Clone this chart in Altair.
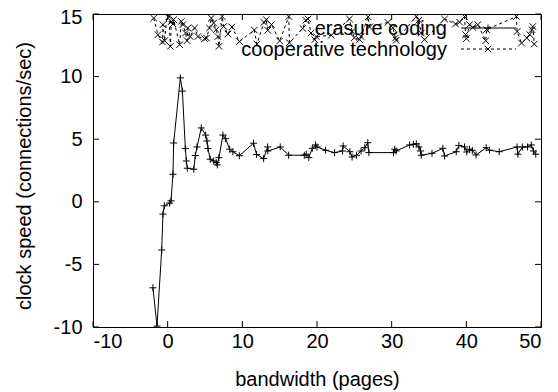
import altair as alt
import pandas as pd

# ---- data ----
erasure_x = [-1.97, -1.43, -0.8, -0.63, -0.45, 0.27, 0.45, 0.71, 0.8, 1.7, 1.97, 2.37, 2.5, 2.63,
             3.5, 3.7, 3.93, 4.5, 5.09, 5.26, 5.4, 5.7, 6.16, 6.5, 6.65, 6.87, 7.4, 7.76, 8.3, 8.74,
             9.6, 11.5, 11.9, 12.85, 13.39, 13.42, 15.08, 16.2, 18.3, 18.55, 18.9, 19.37, 19.8, 20.0,
             21.15, 22.36, 23.4, 23.5, 24.4, 24.7, 25.3, 25.9, 26.4, 26.8, 26.95, 30.25, 30.4, 30.6,
             32.4, 32.9, 33.3, 33.65, 33.87, 33.96, 35.4, 36.85, 37.08, 38.65, 39.0, 39.76, 40.06,
             40.43, 40.8, 41.3, 42.66, 43.1, 44.4, 46.8, 46.9, 47.5, 48.2, 48.7, 49.0, 49.3]
erasure_y = [-6.87, -9.93, -3.85, -0.98, -0.32, -0.1, 0.08, 2.2, 4.7, 9.9, 8.84, 4.25, 3.26, 2.68,
             2.6, 3.7, 4.38, 5.9, 5.33, 4.86, 4.25, 3.4, 3.26, 3.13, 2.95, 3.53, 5.33, 5.04, 4.2, 4.0,
             3.68, 4.68, 3.78, 3.45, 4.38, 4.06, 4.38, 3.72, 3.72, 3.8, 3.53, 4.27, 4.54, 4.38,
             4.12, 3.93, 4.06, 4.46, 4.0, 3.58, 3.72, 4.06, 4.32, 4.72, 3.93, 3.93, 4.2, 4.06,
             4.54, 4.59, 4.64, 4.38, 4.06, 3.72, 3.87, 4.27, 3.66, 4.0, 4.5, 4.38, 3.98,
             4.2, 4.11, 3.74, 4.32, 4.12, 4.0, 4.38, 3.8, 4.38, 4.38, 4.54, 4.06, 3.8]

coop_x = [-1.87, -1.3, -0.7, -0.63, -0.4, 0.0, 0.18, 0.36, 0.5, 0.72, 0.8, 1.6, 1.83, 2.05, 2.4,
          2.6, 2.7, 3.0, 3.6, 4.05, 4.95, 5.2, 5.6, 5.85, 6.16, 6.5, 6.73, 6.87, 7.3, 7.5, 8.07,
          8.6, 9.6, 11.6, 11.95, 12.9, 13.2, 13.4, 13.9, 15.0, 16.22, 16.3, 18.1, 18.5, 18.8,
          19.2, 19.7, 19.9, 21.9, 24.35, 24.7, 25.0, 25.7, 25.9, 26.85, 27.04, 29.5, 30.16, 30.5,
          30.6, 33.3, 33.65, 33.96, 34.4, 37.08, 38.55, 39.1, 39.76, 39.9, 40.0, 40.43, 40.87,
          41.54, 42.6, 42.7, 46.7, 46.8, 47.4, 48.1, 48.5, 48.8, 48.9, 49.1]
coop_y = [14.67, 13.35, 12.76, 14.15, 12.87, 15.6, 14.8, 12.42, 14.4, 14.2, 14.55, 12.55, 14.41,
          14.15, 13.48, 12.87, 13.88, 13.2, 13.88, 13.2, 13.03, 13.08, 13.88, 14.67, 14.28, 13.75,
          13.2, 12.42, 14.8, 14.0, 13.4, 13.96, 12.8, 13.72, 12.6, 14.33, 14.55, 13.7, 14.15,
          12.85, 14.8, 12.7, 13.85, 14.5, 14.6, 13.48, 12.95, 13.2, 13.3, 14.6, 13.6, 13.1, 12.95,
          13.2, 14.77, 13.96, 14.33, 13.9, 13.08, 12.9, 14.8, 14.5, 13.48, 12.95, 14.6, 14.2,
          14.35, 14.8, 13.35, 13.03, 14.15, 13.93, 14.15, 12.87, 13.75, 14.8, 13.6, 12.68, 13.08,
          13.35, 13.75, 14.0, 12.6]

x_ticks = [-10, 0, 10, 20, 30, 40, 50]
y_ticks = [-10, -5, 0, 5, 10, 15]
series_names = ["erasure coding", "cooperative technology"]

# ---- layout ----
W, H = 448, 313
FONT = "Liberation Sans"
FS = 20
PLUS = "M-1,0L1,0M0,-1L0,1"
CROSS = "M-1,-1L1,1M-1,1L1,-1"

xs = alt.Scale(domain=[-10, 50], nice=False, zero=False)
ys = alt.Scale(domain=[-10, 15], nice=False, zero=False)
xaxis = alt.Axis(values=x_ticks, title="bandwidth (pages)", grid=False, domain=False, ticks=False,
                 tickSize=0, labelPadding=4, labelExpr="'' + datum.value",
                 titleY=58, titleBaseline="alphabetic")
yaxis = alt.Axis(values=y_ticks, title="clock speed (connections/sec)", grid=False, domain=False,
                 ticks=False, tickSize=0, labelPadding=11, labelExpr="'' + datum.value",
                 labelOffset={"condition": {"test": "datum.value == 15", "value": 3}, "value": 0},
                 titleX=-63, titleY=H / 2 + 5, titleBaseline="alphabetic", titleAlign="center")


def X(): return alt.X("x:Q", scale=xs, axis=xaxis, title="bandwidth (pages)")
def Y(): return alt.Y("y:Q", scale=ys, axis=yaxis, title="clock speed (connections/sec)")


e_df = pd.DataFrame({"x": erasure_x, "y": erasure_y})
c_df = pd.DataFrame({"x": coop_x, "y": coop_y})
xt = pd.DataFrame({"x": x_ticks})
yt = pd.DataFrame({"y": y_ticks})
one = pd.DataFrame({"k": [0]})

e_line = alt.Chart(e_df).mark_line(color="black", strokeWidth=1, clip=True).encode(x=X(), y=Y(), order="x:Q")
e_pts = alt.Chart(e_df).mark_point(shape=PLUS, filled=False, stroke="black", strokeWidth=1,
                                   size=49, opacity=1, clip=True).encode(x=X(), y=Y())
c_line = alt.Chart(c_df).mark_line(color="black", strokeWidth=1, strokeDash=[3, 3], clip=True).encode(
    x=X(), y=Y(), order="x:Q")
c_pts = alt.Chart(c_df).mark_point(shape=CROSS, filled=False, stroke="black", strokeWidth=1,
                                   size=42, opacity=1, clip=True).encode(x=X(), y=Y())

tb = alt.Chart(xt).mark_rule(color="black", strokeWidth=1).encode(x=X(), y=alt.value(H), y2=alt.value(H - 6))
tt = alt.Chart(xt).mark_rule(color="black", strokeWidth=1).encode(x=X(), y=alt.value(0), y2=alt.value(6))
tl = alt.Chart(yt).mark_rule(color="black", strokeWidth=1).encode(y=Y(), x=alt.value(0), x2=alt.value(6))
tr = alt.Chart(yt).mark_rule(color="black", strokeWidth=1).encode(y=Y(), x=alt.value(W), x2=alt.value(W - 6))

# gnuplot-style key (text on the left, sample on the right)
lx_text, lx1, lx2, lxm = 354, 368, 423, 395
ly1, ly2 = 14, 35
k1t = alt.Chart(one).mark_text(text=series_names[0], align="right", baseline="alphabetic",
                               font=FONT, fontSize=FS, color="black").encode(
    x=alt.value(lx_text), y=alt.value(ly1 + 7))
k2t = alt.Chart(one).mark_text(text=series_names[1], align="right", baseline="alphabetic",
                               font=FONT, fontSize=FS, color="black").encode(
    x=alt.value(lx_text), y=alt.value(ly2 + 7))
k1l = alt.Chart(one).mark_rule(color="black", strokeWidth=1).encode(
    x=alt.value(lx1), x2=alt.value(lx2), y=alt.value(ly1))
k2l = alt.Chart(one).mark_rule(color="black", strokeWidth=1, strokeDash=[3, 3]).encode(
    x=alt.value(lx1), x2=alt.value(lx2), y=alt.value(ly2))
k1p = alt.Chart(one).mark_point(shape=PLUS, filled=False, stroke="black", strokeWidth=1, size=49,
                                opacity=1).encode(x=alt.value(lxm), y=alt.value(ly1))
k2p = alt.Chart(one).mark_point(shape=CROSS, filled=False, stroke="black", strokeWidth=1, size=42,
                                opacity=1).encode(x=alt.value(lxm), y=alt.value(ly2))

chart = alt.layer(
    tb, tt, tl, tr, c_line, c_pts, e_line, e_pts, k1t, k2t, k1l, k2l, k1p, k2p
).properties(
    width=W, height=H,
    autosize=alt.AutoSizeParams(type="none"),
    padding={"left": 85, "top": 6, "right": 9, "bottom": 63},
).configure_view(
    stroke="black", strokeWidth=1
).configure_axis(
    labelFont=FONT, labelFontSize=FS, labelColor="black",
    titleFont=FONT, titleFontSize=FS, titleFontWeight="normal", titleColor="black",
)

chart.save("out.html", embed_options={"renderer": "svg", "actions": False})
